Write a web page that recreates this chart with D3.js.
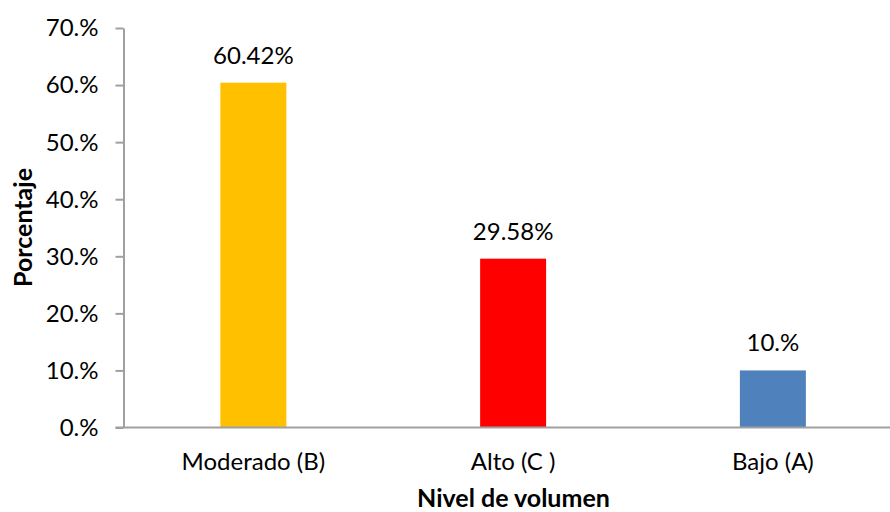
<!DOCTYPE html>
<html>
<head>
<meta charset="utf-8">
<script src="https://cdn.jsdelivr.net/npm/d3@7"></script>
<style>
  html, body { margin: 0; padding: 0; background: #fff; }
  svg text { font-family: Lato, "Open Sans", sans-serif; fill: #000; }
</style>
</head>
<body>
<svg id="chart" width="890" height="512"></svg>
<script>
// Categories, values (%) and bar colours
const categories = ["Moderado (B)", "Alto (C )", "Bajo (A)"];
const values = [60.42, 29.58, 10];
const valueLabels = ["60.42%", "29.58%", "10.%"];
const colors = ["#FFC000", "#FF0000", "#4F81BD"];
const yTicks = [0, 10, 20, 30, 40, 50, 60, 70];
const yTickLabels = ["0.%", "10.%", "20.%", "30.%", "40.%", "50.%", "60.%", "70.%"];
const xTitle = "Nivel de volumen";
const yTitle = "Porcentaje";

const svg = d3.select("#chart");
const plotLeft = 123.5, plotRight = 902.75, plotTop = 28, plotBottom = 427.5;
const labelSize = 24, titleSize = 25;

const x = d3.scaleBand()
  .domain(categories)
  .range([plotLeft, plotRight])
  .paddingInner(0.746)
  .paddingOuter(0.373);

const y = d3.scaleLinear().domain([0, 70]).range([plotBottom, plotTop]);

const axisColor = "#A0A0A0";

// Y axis with outward ticks
const yAxis = svg.append("g")
  .attr("transform", `translate(${plotLeft},0)`)
  .call(d3.axisLeft(y)
    .tickValues(yTicks)
    .tickFormat((d, i) => yTickLabels[i])
    .tickSize(8)
    .tickSizeOuter(0)
    .tickPadding(17));
yAxis.select(".domain").attr("stroke", axisColor).attr("stroke-width", 2);
yAxis.selectAll(".tick line").attr("stroke", axisColor).attr("stroke-width", 2);
yAxis.selectAll(".tick text")
  .attr("font-size", labelSize)
  .attr("fill", "#000")
  .attr("dy", "0.33em");

// Bars
svg.append("g").selectAll("rect")
  .data(values)
  .join("rect")
  .attr("x", (d, i) => x(categories[i]))
  .attr("y", d => y(d))
  .attr("width", x.bandwidth())
  .attr("height", d => y(0) - y(d))
  .attr("fill", (d, i) => colors[i]);

// X axis baseline (drawn after bars so it sits on top)
svg.append("line")
  .attr("x1", plotLeft - 8).attr("x2", 890)
  .attr("y1", plotBottom).attr("y2", plotBottom)
  .attr("stroke", axisColor).attr("stroke-width", 2);

// Category labels
svg.append("g").selectAll("text")
  .data(categories)
  .join("text")
  .attr("x", d => x(d) + x.bandwidth() / 2)
  .attr("y", 470)
  .attr("text-anchor", "middle")
  .attr("font-size", labelSize)
  .text(d => d);

// Value labels above bars
svg.append("g").selectAll("text")
  .data(values)
  .join("text")
  .attr("x", (d, i) => x(categories[i]) + x.bandwidth() / 2)
  .attr("y", d => y(d) - 19)
  .attr("text-anchor", "middle")
  .attr("font-size", labelSize)
  .text((d, i) => valueLabels[i]);

// Axis titles
svg.append("text")
  .attr("x", 513.5)
  .attr("y", 507)
  .attr("text-anchor", "middle")
  .attr("font-size", titleSize)
  .attr("font-weight", "bold")
  .text(xTitle);

svg.append("text")
  .attr("transform", "translate(32,227.5) rotate(-90)")
  .attr("text-anchor", "middle")
  .attr("font-size", titleSize)
  .attr("font-weight", "bold")
  .text(yTitle);
</script>
</body>
</html>
